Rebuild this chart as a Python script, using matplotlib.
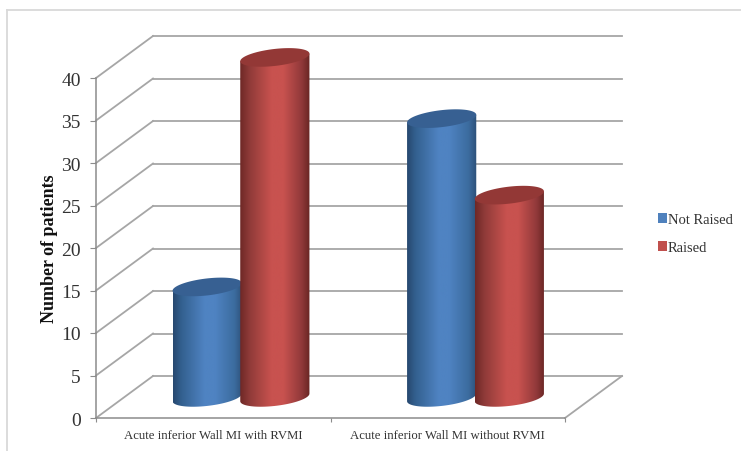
import numpy as np
import matplotlib
matplotlib.use("Agg")
import matplotlib.pyplot as plt
from matplotlib.colors import LinearSegmentedColormap
from matplotlib.patches import Polygon, Rectangle
from matplotlib.lines import Line2D

categories = ["Acute inferior Wall MI with RVMI", "Acute inferior Wall MI without RVMI"]
series_names = ["Not Raised", "Raised"]
not_raised = [13, 32.8]
raised = [40, 23.8]
yticks = [0, 5, 10, 15, 20, 25, 30, 35, 40]

W, H = 741, 452
plt.rcParams["font.family"] = ["Liberation Serif", "DejaVu Serif"]
fig = plt.figure(figsize=(W / 100, H / 100), dpi=100, facecolor="white")

# pixel layout of the front plane
L, R, B, T = 96, 565, 419, 79
ax = fig.add_axes([L / W, 1 - B / H, (R - L) / W, (B - T) / H])
ax.set_xlim(0, 2)
ax.set_ylim(0, 40)
ax.patch.set_visible(False)
ux = (R - L) / 2      # px per category
uy = (B - T) / 40     # px per value
depth_x, depth_y = 57 / ux, 42 / uy
grid_c = "#a6a6a6"

for s in ("top", "right"):
    ax.spines[s].set_visible(False)
for s in ("left", "bottom"):
    ax.spines[s].set_color("#8c8c8c")
    ax.spines[s].set_linewidth(1.1)

ax.set_yticks(yticks)
ax.set_xticks([0, 1, 2])
ax.set_xticklabels([])
ax.set_xticks([0.5, 1.5], minor=True)
ax.set_xticklabels(categories, minor=True, fontsize=9.2, color="#333333")
ax.tick_params(axis="x", which="minor", length=0, pad=8)
ax.tick_params(axis="x", which="major", length=3, color="#8c8c8c")
ax.tick_params(axis="y", length=4, color="#8c8c8c", labelsize=14, labelcolor="#333333", pad=7)
ax.set_ylabel("Number of patients", fontsize=13, fontweight="bold", color="#111111", labelpad=2)

# back wall gridlines with the oblique side lines, floor
line_kw = dict(color=grid_c, lw=1.3, clip_on=False, zorder=1)
for v in yticks:
    ax.plot([0, depth_x], [v, v + depth_y], **line_kw)
    ax.plot([depth_x, 2 + depth_x], [v + depth_y, v + depth_y], **line_kw)
ax.plot([2, 2 + depth_x], [0, depth_y], **line_kw)

# cylinders
width = 0.295
half_w = width / 2
h_ell = 8.5 / uy
tilt = 3.8 / uy
mid_x, mid_y = depth_x / 2 - 1.5 / ux, depth_y * 0.5 - 0.05
blue_shift = 1.5 / ux
t = np.linspace(0, 2 * np.pi, 121)

blue_cmap = LinearSegmentedColormap.from_list(
    "b", [(0, "#27486f"), (0.12, "#33608f"), (0.45, "#4f83c2"), (0.6, "#4f83c2"), (0.88, "#3c6c9f"), (1, "#2c5078")])
red_cmap = LinearSegmentedColormap.from_list(
    "r", [(0, "#6e2826"), (0.14, "#903b39"), (0.45, "#c8524f"), (0.62, "#c8524f"), (0.88, "#91393a"), (1, "#682523")])
top_colors = {"b": "#376092", "r": "#933836"}
gradient = np.linspace(0, 1, 256)[None, :]


def ellipse(cx, cy):
    return cx + half_w * np.cos(t), cy + h_ell * np.sin(-t) + tilt * np.cos(t)


def cylinder(cx, value, cmap, top_c, z):
    cx = cx + mid_x
    x0, x1 = cx - half_w, cx + half_w
    y0, y1 = mid_y, mid_y + value
    lower = t[(t >= 0) & (t <= np.pi)]
    xs = cx + half_w * np.cos(lower)
    ys = y0 - h_ell * np.sin(lower) + tilt * np.cos(lower)
    # body outline: bottom half of the base ellipse, up and across the top
    verts = np.column_stack([xs, ys])
    verts = np.vstack([verts, [x0, y1 - tilt], [x1, y1 + tilt]])
    im = ax.imshow(gradient, extent=[x0, x1, y0 - 2 * h_ell, y1 + 2 * h_ell], cmap=cmap,
                   aspect="auto", zorder=z, interpolation="bilinear")
    clip = Polygon(verts, closed=True, transform=ax.transData)
    im.set_clip_box(fig.bbox)
    im.set_clip_path(clip)
    tx, ty = ellipse(cx, y1)
    ax.add_patch(Polygon(np.column_stack([tx, ty]), closed=True, facecolor=top_c,
                         edgecolor="none", clip_on=False, zorder=z + 0.1))


centers = [0.5, 1.5]
for i, c in enumerate(centers):
    cylinder(c - half_w + blue_shift, not_raised[i], blue_cmap, top_colors["b"], 3 + i * 2)
    cylinder(c + half_w, raised[i], red_cmap, top_colors["r"], 4 + i * 2)
ax.set_xlim(0, 2)
ax.set_ylim(0, 40)

# legend
handles = [Rectangle((0, 0), 1, 1, facecolor=c, edgecolor="none") for c in ("#4f81bd", "#c0504d")]
fig.legend(handles, series_names, loc="center left", bbox_to_anchor=(657.5 / W, 1 - 234.5 / H),
           frameon=False, fontsize=10.5, labelcolor="#333333", handlelength=0.65, handleheight=0.65,
           handletextpad=0.05, labelspacing=1.0, borderpad=0, borderaxespad=0)

# outer frame of the chart
frame_kw = dict(color="#d9d9d9", lw=1.3, transform=fig.transFigure, clip_on=False)
fig.add_artist(Line2D([7 / W, 7 / W], [0, 1 - 11 / H], **frame_kw))
fig.add_artist(Line2D([7 / W, 1], [1 - 11 / H, 1 - 11 / H], **frame_kw))

fig.savefig("out.png", dpi=100)
